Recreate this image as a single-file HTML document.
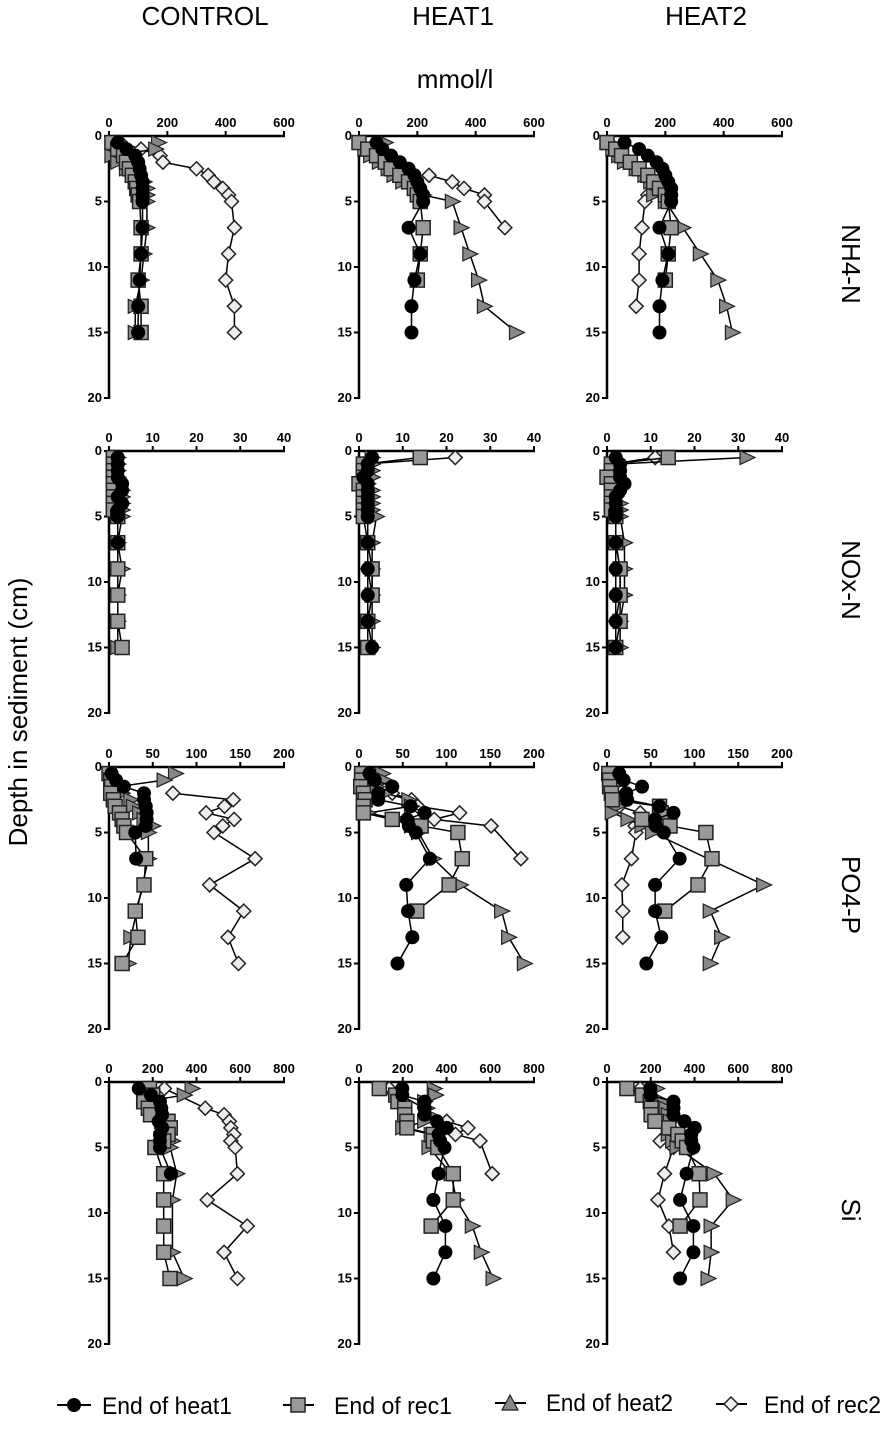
<!DOCTYPE html>
<html><head><meta charset="utf-8">
<style>
html,body{margin:0;padding:0;background:#fff;}
body{width:886px;height:1424px;overflow:hidden;font-family:"Liberation Sans",sans-serif;}
svg text{font-family:"Liberation Sans",sans-serif;}
</style></head>
<body>
<svg id="chart" width="886" height="1424" viewBox="0 0 886 1424" xmlns="http://www.w3.org/2000/svg">
<g font-size="26" text-anchor="middle">
<text x="205" y="25">CONTROL</text>
<text x="453" y="25">HEAT1</text>
<text x="706" y="25">HEAT2</text>
</g>
<text x="455" y="88" font-size="26" text-anchor="middle">mmol/l</text>
<text x="0" y="0" font-size="26" text-anchor="middle" transform="translate(27,712) rotate(-90)">Depth in sediment (cm)</text>
<g font-size="26" text-anchor="middle">
<text transform="translate(842,264) rotate(90)">NH4-N</text>
<text transform="translate(842,580) rotate(90)">NOx-N</text>
<text transform="translate(842,895) rotate(90)">PO4-P</text>
<text transform="translate(842,1210) rotate(90)">Si</text>
</g>
<g id="panels"></g>
<g font-size="24">
<g>
<line x1="57" y1="1405" x2="91" y2="1405" stroke="#000" stroke-width="2"/>
<circle cx="74" cy="1405" r="7" fill="#000"/>
<text x="102" y="1414" textLength="130" lengthAdjust="spacingAndGlyphs">End of heat1</text></g>
<g>
<line x1="283" y1="1405" x2="314" y2="1405" stroke="#000" stroke-width="2"/>
<rect x="291" y="1398" width="14" height="14" fill="#999" stroke="#222" stroke-width="1.5"/>
<text x="334" y="1414" textLength="118" lengthAdjust="spacingAndGlyphs">End of rec1</text></g>
<g>
<line x1="495" y1="1403" x2="526" y2="1403" stroke="#000" stroke-width="2"/>
<polygon points="510,1395 518,1410 502,1410" fill="#888" stroke="#222" stroke-width="1.2"/>
<text x="546" y="1411" textLength="127" lengthAdjust="spacingAndGlyphs">End of heat2</text></g>
<g>
<line x1="716" y1="1404" x2="747" y2="1404" stroke="#000" stroke-width="2"/>
<polygon points="731,1397 738,1404 731,1411 724,1404" fill="#eee" stroke="#222" stroke-width="1.5"/>
<text x="764" y="1413" textLength="117" lengthAdjust="spacingAndGlyphs">End of rec2</text></g>
</g>
</svg>
<script>
const depths=[0.5,1,1.5,2,2.5,3,3.5,4,4.5,5,7,9,11,13,15];
const depthTicks=[0,5,10,15,20];
const rowVars=["NH4-N","NOx-N","PO4-P","Si"];
const colTreat=["CONTROL","HEAT1","HEAT2"];
const xMax=[600,40,200,800];
const xTicks=[[0,200,400,600],[0,10,20,30,40],[0,50,100,150,200],[0,200,400,600,800]];
const N=null;
// NH4-N
const nh4_control_heat1=[30,60,90,100,105,110,115,115,115,115,115,110,105,100,100];
const nh4_control_rec1=[10,30,50,60,70,80,90,95,100,105,110,110,100,110,110];
const nh4_control_heat2=[170,160,10,30,60,80,120,130,130,130,130,120,110,90,90];
const nh4_control_rec2=[40,110,175,185,300,340,360,390,410,420,430,410,400,430,430];
const nh4_heat1_heat1=[60,80,110,140,170,190,200,210,220,220,170,210,190,180,180];
const nh4_heat1_rec1=[0,30,60,90,110,140,170,190,200,210,220,210,200,N,N];
const nh4_heat1_heat2=[90,20,40,70,100,120,150,190,220,320,350,380,410,430,540];
const nh4_heat1_rec2=[N,N,N,N,N,240,320,360,430,430,500,N,N,N,N];
const nh4_heat2_heat1=[60,110,140,170,190,200,210,220,220,220,180,210,190,180,180];
const nh4_heat2_rec1=[0,30,50,80,110,140,160,180,200,210,220,210,200,N,N];
const nh4_heat2_heat2=[10,20,40,60,100,130,150,170,160,200,260,320,380,410,430];
const nh4_heat2_rec2=[N,N,N,N,N,N,N,N,140,130,120,110,110,100,N];
// NOx-N
const nox_control_heat1=[2,2,2,2,3,3,2,3,2,2,2,N,N,N,N];
const nox_control_rec1=[1,1,1,1,1,1,1,1,1,2,2,2,2,2,3];
const nox_control_heat2=[2,2,2,2,2,3,3,3,3,3,2,3,2,2,2];
const nox_control_rec2=[1,1,1,1,1,2,2,2,2,2,2,2,2,2,2];
const nox_heat1_heat1=[3,2,2,1,2,2,2,2,2,2,2,2,2,2,3];
const nox_heat1_rec1=[14,1,1,1,0,1,1,1,1,1,2,3,3,2,2];
const nox_heat1_heat2=[3,3,3,3,2,3,3,3,3,4,3,3,3,3,3];
const nox_heat1_rec2=[22,1,1,1,1,2,2,2,2,2,2,2,3,2,2];
const nox_heat2_heat1=[2,3,3,3,4,3,2,2,2,2,2,2,2,2,2];
const nox_heat2_rec1=[14,1,1,0,1,1,1,1,1,2,2,3,3,3,2];
const nox_heat2_heat2=[32,2,2,2,2,2,2,3,3,3,4,4,4,3,3];
const nox_heat2_rec2=[11,1,1,1,2,2,2,2,2,2,2,3,3,2,2];
// PO4-P
const po4_control_heat1=[3,8,17,40,40,42,43,43,42,30,31,N,N,N,N];
const po4_control_rec1=[0,2,3,2,5,7,12,15,17,20,42,40,30,33,15];
const po4_control_heat2=[76,63,10,15,25,28,35,40,50,45,45,N,N,25,22];
const po4_control_rec2=[N,N,N,73,142,132,111,143,130,120,167,115,154,136,148];
const po4_heat1_heat1=[12,18,38,22,22,59,75,55,57,65,81,54,56,61,44];
const po4_heat1_rec1=[3,3,2,5,7,5,5,38,71,113,118,103,66,N,N];
const po4_heat1_heat2=[27,29,20,30,57,60,10,45,60,68,85,116,163,171,189];
const po4_heat1_rec2=[N,N,N,38,60,67,115,86,151,N,185,N,N,N,N];
const po4_heat2_heat1=[14,19,40,22,23,60,76,55,56,65,83,55,55,62,45];
const po4_heat2_rec1=[2,3,3,5,6,60,62,40,72,113,120,104,66,N,N];
const po4_heat2_heat2=[5,5,6,10,12,12,6,24,40,52,N,179,118,131,118];
const po4_heat2_rec2=[N,N,N,N,N,14,38,N,32,33,28,17,18,18,N];
// Si
const si_control_heat1=[136,192,233,239,243,227,243,233,233,233,283,N,N,N,N];
const si_control_rec1=[185,200,160,180,190,270,280,270,250,210,250,250,250,250,279];
const si_control_heat2=[380,344,158,220,230,240,260,270,290,280,310,290,N,290,344];
const si_control_rec2=[253,N,N,440,526,550,557,571,557,577,587,449,632,526,587];
const si_heat1_heat1=[198,198,300,300,300,356,401,364,371,391,364,340,395,395,340];
const si_heat1_rec1=[93,168,178,209,209,219,219,340,340,360,431,431,330,N,N];
const si_heat1_heat2=[344,350,300,310,320,300,200,330,340,320,421,445,518,559,613];
const si_heat1_rec2=[138,N,N,N,N,401,498,441,553,N,609,N,N,N,N];
const si_heat2_heat1=[198,198,304,304,304,354,401,385,385,395,364,334,395,395,334];
const si_heat2_rec1=[91,162,198,202,202,219,283,324,344,364,421,425,334,N,N];
const si_heat2_heat2=[227,180,259,270,280,290,290,280,300,320,490,577,476,476,462];
const si_heat2_rec2=[152,N,N,N,N,290,N,N,243,304,263,233,283,304,N];

const seriesData=[
 [[nh4_control_heat1,nh4_control_rec1,nh4_control_heat2,nh4_control_rec2],[nh4_heat1_heat1,nh4_heat1_rec1,nh4_heat1_heat2,nh4_heat1_rec2],[nh4_heat2_heat1,nh4_heat2_rec1,nh4_heat2_heat2,nh4_heat2_rec2]],
 [[nox_control_heat1,nox_control_rec1,nox_control_heat2,nox_control_rec2],[nox_heat1_heat1,nox_heat1_rec1,nox_heat1_heat2,nox_heat1_rec2],[nox_heat2_heat1,nox_heat2_rec1,nox_heat2_heat2,nox_heat2_rec2]],
 [[po4_control_heat1,po4_control_rec1,po4_control_heat2,po4_control_rec2],[po4_heat1_heat1,po4_heat1_rec1,po4_heat1_heat2,po4_heat1_rec2],[po4_heat2_heat1,po4_heat2_rec1,po4_heat2_heat2,po4_heat2_rec2]],
 [[si_control_heat1,si_control_rec1,si_control_heat2,si_control_rec2],[si_heat1_heat1,si_heat1_rec1,si_heat1_heat2,si_heat1_rec2],[si_heat2_heat1,si_heat2_rec1,si_heat2_heat2,si_heat2_rec2]]
];
const seriesNames=["heat1","rec1","heat2","rec2"];

const NS="http://www.w3.org/2000/svg";
const colX=[109,359,607];
const rowY=[136,451,767,1082];
const PW=175, PH=262;
function mk(tag,attrs,parent){const e=document.createElementNS(NS,tag);for(const k in attrs)e.setAttribute(k,attrs[k]);parent.appendChild(e);return e;}
const root=document.getElementById('panels');

function marker(type,x,y,g){
  let m;
  if(type===0){m=mk('circle',{cx:x,cy:y,r:7,fill:'#000'},g);}
  else if(type===1){m=mk('rect',{x:x-7,y:y-7,width:14,height:14,fill:'#999',stroke:'#222','stroke-width':1.5},g);}
  else if(type===2){m=mk('polygon',{points:`${x+8},${y} ${x-7},${y-7} ${x-7},${y+7}`,fill:'#888',stroke:'#222','stroke-width':1.2},g);}
  else {m=mk('polygon',{points:`${x},${y-7} ${x+7},${y} ${x},${y+7} ${x-7},${y}`,fill:'#eee',stroke:'#222','stroke-width':1.5},g);}
  return m;
}

for(let r=0;r<4;r++){
 for(let c=0;c<3;c++){
  const x0=colX[c], y0=rowY[r];
  const xs=v=>x0+v/xMax[r]*PW;
  const ys=d=>y0+d/20*PH;
  const g=mk('g',{},root);
  
  
  const xa=mk('g',{},g);
  
  
  mk('line',{x1:x0-1,y1:y0,x2:x0+PW+1,y2:y0,stroke:'#000','stroke-width':2.5},xa);
  xTicks[r].forEach(t=>{
   mk('line',{x1:xs(t),y1:y0,x2:xs(t),y2:y0-5,stroke:'#000','stroke-width':2},xa);
   const tx=mk('text',{x:xs(t),y:y0-9,'font-size':13,'font-weight':'bold','text-anchor':'middle'},xa);
   tx.textContent=t;
   
   
  });
  const ya=mk('g',{},g);
  
  
  mk('line',{x1:x0,y1:y0-1,x2:x0,y2:ys(20)+1,stroke:'#000','stroke-width':2.5},ya);
  depthTicks.forEach(t=>{
   mk('line',{x1:x0,y1:ys(t),x2:x0-5,y2:ys(t),stroke:'#000','stroke-width':2},ya);
   const tx=mk('text',{x:x0-7,y:ys(t)+4,'font-size':13,'font-weight':'bold','text-anchor':'end'},ya);
   tx.textContent=t;
   
   
  });
  [3,2,1,0].forEach(s=>{
   const vals=seriesData[r][c][s];
   const sg=mk('g',{},g);
   
   
   const pts=[];
   vals.forEach((v,i)=>{if(v!==null)pts.push([xs(v),ys(depths[i])]);});
   const ln=mk('polyline',{points:pts.map(p=>p.join(',')).join(' '),fill:'none',stroke:'#000','stroke-width':1.5},sg);
   
   
   pts.forEach(p=>{
    const m=marker(s,p[0],p[1],sg);
    
    
   });
  });
 }
}
</script>
</body></html>
